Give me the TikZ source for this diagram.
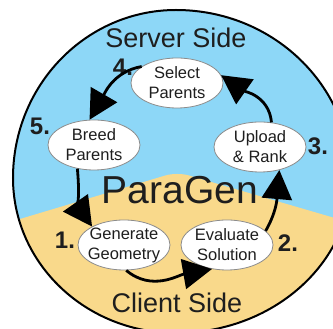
\documentclass[tikz,border=0pt]{standalone}
\usepackage{fontspec}
\setmainfont{Liberation Sans}
\usepackage{tikz}
\usetikzlibrary{shapes.geometric, arrows.meta}
\definecolor{serverbg}{HTML}{8DD7F7}
\definecolor{clientbg}{HTML}{F9D98B}
\definecolor{stepline}{HTML}{8C8C8C}
\definecolor{inktext}{HTML}{1E1E1E}

% outline of the big disc (slightly egg-shaped, as drawn by hand)
\newcommand{\rimshape}{(351,151)
  arc[start angle=0, end angle=90, x radius=175, y radius=168]
  arc[start angle=90, end angle=180, x radius=163, y radius=168]
  arc[start angle=180, end angle=270, x radius=163, y radius=155]
  arc[start angle=270, end angle=360, x radius=175, y radius=155] -- cycle}

\begin{document}
\begin{tikzpicture}[
  x=1pt, y=1pt,
  font=\fontsize{16.5}{20}\selectfont,
  stepnode/.style={ellipse, draw=stepline, line width=0.8pt, fill=white, text=inktext,
                   minimum width=92pt, minimum height=50pt, inner sep=-4pt, align=center},
  side/.style={font=\fontsize{27}{30}\selectfont, text=inktext},
  num/.style={font=\fontsize{24}{26}\selectfont\bfseries, text=inktext},
  flow/.style={line width=2.8pt, -{Triangle[length=29pt, width=30pt]}}
]
  \useasboundingbox (0,0) rectangle (333,329);

  % ── Background: server half and client half ──────────────────────────────
  \begin{scope}
    \clip (0,0) rectangle (333,329);
    \fill[serverbg] \rimshape;
    \begin{scope}
      \clip \rimshape;
      \fill[clientbg, rounded corners=12pt] (-10,101) -- (177,157) -- (345,108)
        -- (345,-10) -- (-10,-10) -- cycle;
    \end{scope}
    \draw[line width=2pt] \rimshape;
  \end{scope}

  % ── Titles ─────────────────────────────────────────────────────────────────
  \node[side] (server) at (176,291) {Server Side};
  \node[side] (client) at (177,26) {Client Side};
  \node[font=\fontsize{39}{41}\selectfont, text=inktext] (title) at (180,139) {ParaGen};

  % ── Steps ──────────────────────────────────────────────────────────────────
  \node[stepnode] (sel)    at (177,246) {Select\\Parents};
  \node[stepnode] (breed)  at (94,184)  {Breed\\Parents};
  \node[stepnode] (upload) at (260,182) {Upload\\\& Rank};
  \node[stepnode] (gen)    at (124,84)  {Generate\\Geometry};
  \node[stepnode] (eval)   at (227,84)  {Evaluate\\Solution};

  % ── Step numbers ───────────────────────────────────────────────────────────
  \node[num] (n1) at (65,89)   {1.};
  \node[num] (n2) at (288,86)  {2.};
  \node[num] (n3) at (318,183) {3.};
  \node[num] (n4) at (123,262) {4.};
  \node[num] (n5) at (40,203)  {5.};

  % ── Cycle arrows ───────────────────────────────────────────────────────────
  \draw[flow] (gen.275)   to[out=-40, in=190] (eval.238);
  \draw[flow] (eval.20)   to[out=60, in=-95]  (upload.310);
  \draw[flow] (upload.65) to[out=95, in=-35]  (sel.10);
  \draw[flow] (sel.155)   to[out=190, in=60]  (breed.100);
  \draw[flow] (breed.235) to[out=-85, in=125] (gen.150);
\end{tikzpicture}
\end{document}
